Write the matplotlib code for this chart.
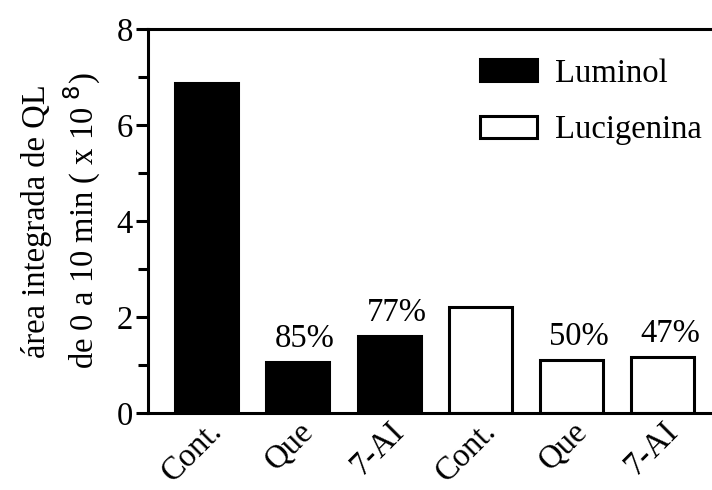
import numpy as np
import matplotlib.pyplot as plt
from matplotlib.ticker import MultipleLocator

# data
categories = ['Cont.', 'Que', '7-AI', 'Cont.', 'Que', '7-AI']
luminol = [6.88, 1.06, 1.60]
lucigenina = [2.20, 1.10, 1.16]
pct_luminol = ['', '85%', '77%']
pct_lucigenina = ['', '50%', '47%']

plt.rcParams['font.family'] = ['Liberation Serif', 'DejaVu Serif']
FS = 23.5

fig = plt.figure(figsize=(7.12, 4.9), dpi=100)
ax = fig.add_axes([0.208, 0.157, 0.80, 0.784])

x = np.arange(len(categories))
xl = x[:3]
xc = x[3:]
w = 0.69
lw = 2.2

ax.bar(xl, luminol, width=w, color='black', edgecolor='black', linewidth=lw,
       label='Luminol')
ax.bar(xc, lucigenina, width=w, color='white', edgecolor='black', linewidth=lw,
       label='Lucigenina')

for xi, v, t in zip(xl, luminol, pct_luminol):
    if t:
        ax.text(xi + 0.08, v + 0.17, t, ha='center', va='bottom', fontsize=FS)
for xi, v, t in zip(xc, lucigenina, pct_lucigenina):
    if t:
        ax.text(xi + 0.08, v + 0.17, t, ha='center', va='bottom', fontsize=FS)

ax.set_xlim(-0.64, 5.6)
ax.set_ylim(0, 8)
ax.yaxis.set_major_locator(MultipleLocator(2))
ax.yaxis.set_minor_locator(MultipleLocator(1))
ax.tick_params(axis='y', which='major', length=9, width=lw, labelsize=FS, pad=2)
ax.tick_params(axis='y', which='minor', length=7, width=lw)

ax.set_xticks(x)
ax.set_xticklabels(categories, rotation=45, ha='right', rotation_mode='anchor',
                   fontsize=FS)
ax.tick_params(axis='x', length=0, pad=2)

for s in ['left', 'bottom', 'top']:
    ax.spines[s].set_linewidth(lw)
ax.spines['right'].set_visible(False)

ax.set_ylabel('área integrada de QL\nde 0 a 10 min ( x 10$^{\\ 8}$)', fontsize=FS,
              linespacing=1.3, labelpad=10)

ax.legend(loc='upper right', bbox_to_anchor=(1.007, 0.975), frameon=False, fontsize=FS,
          handlelength=1.75, handleheight=0.67, labelspacing=0.8, handletextpad=0.55,
          borderaxespad=0.2)

fig.savefig('out.png', dpi=100)
